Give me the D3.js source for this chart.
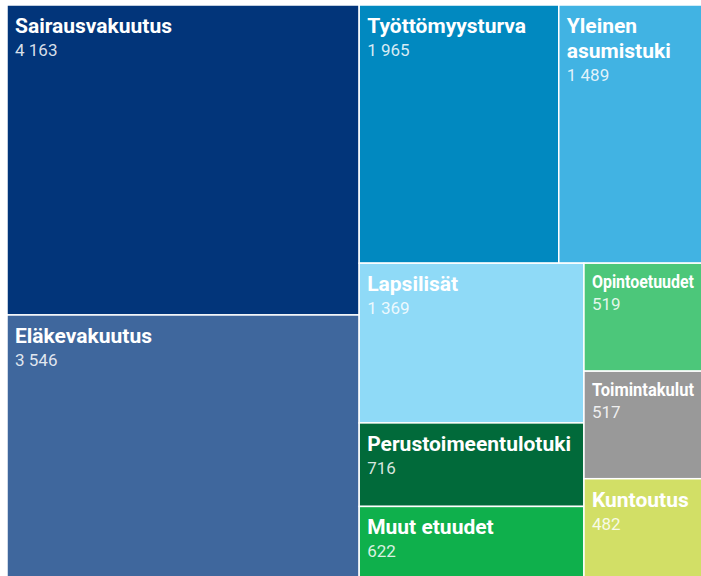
<!DOCTYPE html>
<html>
<head>
<meta charset="utf-8">
<script src="https://cdn.jsdelivr.net/npm/d3@7"></script>
<style>
  body { margin: 0; background: #fff; }
  text { font-family: Roboto, "Noto Sans", sans-serif; fill: #fff; }
</style>
</head>
<body>
<script>
    // Categories and values (million euros)
    const categories = ["Sairausvakuutus", "Eläkevakuutus", "Työttömyysturva", "Yleinen asumistuki",
      "Lapsilisät", "Perustoimeentulotuki", "Muut etuudet", "Opintoetuudet", "Toimintakulut", "Kuntoutus"];
    const values = [4163, 3546, 1965, 1489, 1369, 716, 622, 519, 517, 482];
    const colors = ["#02357a", "#3f679d", "#0189c0", "#41b3e3", "#8fdaf7",
      "#016a3a", "#0fb04c", "#4cc77a", "#999999", "#d2df66"];

    const width = 701;
    const height = 576;

    const fi = d3.formatLocale({ decimal: ",", thousands: "\u00a0", grouping: [3], currency: ["", "€"] });
    const fmt = fi.format(",");

    const svg = d3.select("body")
      .append("svg")
      .attr("width", width)
      .attr("height", height);

    const root = d3.hierarchy({
        children: categories.map((c, i) => ({ name: c, value: values[i], color: colors[i] }))
      })
      .sum(d => d.value || 0)
      .sort((a, b) => b.value - a.value);

    // the plot runs a little past the right and bottom edges of the picture
    d3.treemap()
      .tile(d3.treemapSquarify)
      .size([703, 574])(root);

    const plot = svg.append("g").attr("transform", "translate(7,5)");

    const cell = plot.selectAll("g")
      .data(root.leaves())
      .enter()
      .append("g")
      .attr("transform", d => `translate(${d.x0},${d.y0})`);

    cell.append("rect")
      .attr("width", d => d.x1 - d.x0)
      .attr("height", d => d.y1 - d.y0)
      .attr("fill", d => d.data.color)
      .attr("stroke", "#fff")
      .attr("stroke-width", 1.5);

    // Labels: wrap multi-word names, squeeze single words that don't fit
    cell.each(function(d) {
      const g = d3.select(this);
      const cw = Math.min(d.x1, width - 7) - d.x0;
      const label = g.append("text")
        .attr("x", 8)
        .attr("y", 28)
        .attr("font-weight", "bold")
        .attr("font-size", 21)
        .text(d.data.name);
      let valueY = 51;
      if (label.node().getComputedTextLength() > cw - 14) {
        const words = d.data.name.split(" ");
        if (words.length > 1) {
          label.text(null);
          words.forEach((wd, i) => {
            label.append("tspan").attr("x", 8).attr("dy", i ? 25 : 0).text(wd);
          });
          valueY += (words.length - 1) * 25;
        } else {
          label.attr("font-size", 17.5).attr("y", 25);
          if (label.node().getComputedTextLength() > cw - 15) {
            label.attr("textLength", cw - 15).attr("lengthAdjust", "spacingAndGlyphs");
          }
          valueY = 47;
        }
      }
      g.append("text")
        .attr("x", 8)
        .attr("y", valueY)
        .attr("font-size", 17)
        .attr("fill-opacity", 0.85)
        .text(fmt(d.data.value));
    });
  </script>
</body>
</html>
